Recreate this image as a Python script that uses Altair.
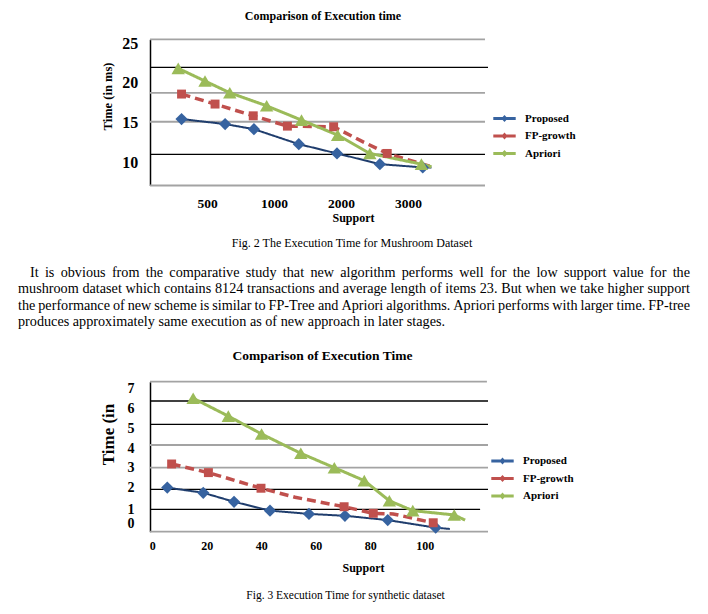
import json
import altair as alt
import pandas as pd

W, H = 692, 594          # drawing area (page minus 8px margin)
FONT = "Liberation Serif"
GREY = "#a3a3a3"
BLACK = "#000000"

# ---------------- common series styling ----------------
series = ["Proposed", "FP-growth", "Apriori"]
marker_colors = ["#3763a0", "#c0504d", "#9bbb59"]
line_colors = ["#1f3d6d", "#c0504d", "#9bbb59"]
line_widths = [2, 3.5, 3]
line_dashes = [[1, 0], [9, 5], [1, 0]]
marker_shapes = ["diamond", "square", "triangle-up"]
marker_sizes = [150, 80, 180]

# ---------------- Fig. 2 (mushroom) ----------------
c1_title = "Comparison of Execution time"
c1_ytitle = "Time (in ms)"
c1_xtitle = "Support"
c1_xticks = [1, 2, 3, 4]
c1_xlabels = ["500", "1000", "2000", "3000"]
c1_yticks = [10, 15, 20, 25]
c1_xdomain = [0.149, 5.194]
c1_ydomain = [7.05, 25.47]

c1_prop_x = [0.62, 1.27, 1.70, 2.37, 2.94, 3.58, 4.22, 4.35]
c1_prop_y = [15.42, 14.79, 14.15, 12.26, 11.09, 9.74, 9.33, 9.33]
c1_prop_m = [1, 1, 1, 1, 1, 1, 1, 0]
c1_fp_x = [0.62, 1.12, 1.69, 2.20, 2.89, 3.33, 3.69, 4.35]
c1_fp_y = [18.57, 17.31, 15.83, 14.53, 14.45, 12.55, 11.09, 9.40]
c1_fp_m = [1, 1, 1, 1, 1, 0, 1, 0]
c1_ap_x = [0.57, 0.97, 1.34, 1.89, 2.41, 2.95, 3.43, 4.20, 4.35]
c1_ap_y = [21.81, 20.21, 18.73, 17.09, 15.29, 13.40, 11.09, 9.74, 9.40]
c1_ap_m = [1, 1, 1, 1, 1, 1, 1, 1, 0]

c1_grid_y = [25.47, 21.94, 18.73, 15.08, 10.96, 7.05]
c1_grid_c = [GREY, BLACK, GREY, GREY, BLACK, GREY]
c1_grid_end = [5.149, 5.194, 5.149, 5.149, 5.149, 5.149]

# ---------------- Fig. 3 (synthetic) ----------------
c2_title = "Comparison of Execution Time"
c2_ytitle = "Time (in"
c2_xtitle = "Support"
c2_xticks = [0, 20, 40, 60, 80, 100]
# where the printed y labels sit on the value axis of this figure
c2_ytick_pos = [7.08, 6.11, 5.14, 4.16, 3.23, 2.26, 1.185, 0.504]
c2_ytick_labels = ["7", "6", "5", "4", "3", "2", "1", "0"]
c2_xdomain = [-0.84, 123.2]
c2_ydomain = [0.105, 7.404]

c2_prop_x = [5.5, 18.7, 30.0, 43.2, 57.5, 70.7, 86.4, 104.0, 109.2]
c2_prop_y = [2.25, 2.00, 1.56, 1.13, 0.97, 0.88, 0.67, 0.30, 0.24]
c2_prop_m = [1, 1, 1, 1, 1, 1, 1, 1, 0]
c2_fp_x = [7.1, 20.6, 39.9, 52.4, 70.4, 81.1, 88.4, 103.1]
c2_fp_y = [3.40, 2.98, 2.22, 1.78, 1.32, 1.00, 0.97, 0.54]
c2_fp_m = [1, 1, 1, 0, 1, 1, 0, 1]
c2_ap_x = [15.0, 27.9, 40.1, 54.5, 66.8, 77.8, 87.0, 95.6, 110.8, 114.8]
c2_ap_y = [6.60, 5.73, 4.86, 3.92, 3.22, 2.59, 1.61, 1.13, 0.92, 0.67]
c2_ap_m = [1, 1, 1, 1, 1, 1, 1, 1, 1, 0]

c2_grid_y = [7.404, 6.465, 5.331, 4.324, 3.219, 2.168, 1.195, 0.105]
c2_grid_c = [GREY, BLACK, BLACK, GREY, GREY, BLACK, BLACK, GREY]
c2_grid_end = [122.8, 123.2, 123.2, 123.2, 123.2, 123.2, 120.3, 123.2]

# ---------------- page text ----------------
caption1 = "Fig. 2 The Execution Time for Mushroom Dataset"
caption2 = "Fig. 3 Execution Time for synthetic dataset"
paragraph = [
    "It is obvious from the comparative study that new algorithm performs well for the low support value for the",
    "mushroom dataset which contains 8124 transactions and average length of items 23.  But when we take higher support",
    "the performance of new scheme is similar to FP-Tree and Apriori algorithms. Apriori performs with larger time. FP-tree",
    "produces approximately same execution as of new approach in later stages.",
]
PARA_SIZE = 14.2

LEG_PATH = ("M-1.4,-0.2L1.4,-0.2L1.4,0.2L-1.4,0.2Z "
            "M0,-0.45L0.4,0L0,0.45L-0.4,0Z")

# Times / Liberation Serif advance widths (per 1000 em) used to justify text
_TNR = {" ": 250, ".": 250, ",": 250, "-": 333, "(": 333, ")": 333}
_TNR.update({c: 500 for c in "0123456789"})
_TNR.update(dict(zip("abcdefghijklmnopqrstuvwxyz",
                     [444, 500, 444, 500, 444, 333, 500, 500, 278, 278, 500, 278, 778,
                      500, 500, 500, 500, 333, 389, 278, 500, 500, 722, 500, 500, 444])))
_TNR.update(dict(zip("ABCDEFGHIJKLMNOPQRSTUVWXYZ",
                     [722, 667, 667, 722, 611, 556, 722, 722, 333, 389, 722, 611, 889,
                      722, 722, 556, 722, 667, 556, 611, 722, 722, 944, 722, 722, 611])))


def text_w(s, size):
    return sum(_TNR.get(ch, 500) for ch in s) * size / 1000.0


def series_frame(xs_list, ys_list, ms_list):
    rows = []
    for name, xs, ys, ms in zip(series, xs_list, ys_list, ms_list):
        for k, (x, y, m) in enumerate(zip(xs, ys, ms)):
            rows.append({"series": name, "x": x, "y": y, "m": m, "k": k})
    return pd.DataFrame(rows)


def grid_frame(ys, cs, ends, start):
    return pd.DataFrame({
        "y": ys, "c": cs, "x1": ends, "x0": [start] * len(ys),
        "w": [1.8 if c == GREY else 1.3 for c in cs],
    })


def panel(df, gdf, sx, sy, ax_x, ax_y, legend):
    layers = [
        alt.Chart(gdf).mark_rule().encode(
            x=alt.X("x0:Q", scale=sx, axis=ax_x),
            x2="x1:Q",
            y=alt.Y("y:Q", scale=sy, axis=ax_y),
            color=alt.Color("c:N", scale=None),
            strokeWidth=alt.StrokeWidth("w:Q", scale=None),
        )
    ]
    for i, name in enumerate(series):
        d = df[df.series == name]
        layers.append(
            alt.Chart(d).mark_line(
                color=line_colors[i], strokeWidth=line_widths[i],
                strokeDash=line_dashes[i],
            ).encode(
                x=alt.X("x:Q", scale=sx, axis=ax_x),
                y=alt.Y("y:Q", scale=sy, axis=ax_y),
                order="k:Q",
            )
        )
    for i, name in enumerate(series):
        d = df[(df.series == name) & (df.m == 1)]
        layers.append(
            alt.Chart(d).mark_point(
                filled=True, opacity=1, shape=marker_shapes[i],
                size=marker_sizes[i], strokeWidth=0,
            ).encode(
                x=alt.X("x:Q", scale=sx, axis=ax_x),
                y=alt.Y("y:Q", scale=sy, axis=ax_y),
                color=alt.Color(
                    "series:N",
                    scale=alt.Scale(domain=series, range=marker_colors),
                    legend=legend,
                ),
            )
        )
    return alt.layer(*layers)


def make_legend(lx, ly):
    return alt.Legend(
        title=None, orient="none", legendX=lx, legendY=ly,
        symbolType=LEG_PATH, symbolSize=256, symbolStrokeWidth=0,
        labelFont=FONT, labelFontSize=11, labelFontWeight="bold",
        labelColor="black", labelOffset=12.5, rowPadding=4.5, padding=0,
    )


def axis_common():
    return dict(
        ticks=False, tickSize=0, grid=False, labelColor="black",
        labelFont=FONT, labelFontWeight="bold", labelFlush=False,
        labelOverlap=False, labelBound=False, titleFont=FONT,
        titleFontWeight="bold", titleColor="black",
        titleBaseline="middle", titleAlign="center",
    )


# ---- panel 1 ----
y1_bot, y1_top = 177.5, 31.3
x_left, x_right = 142, 480
sx1 = alt.Scale(domain=c1_xdomain, range=[x_left, x_right], nice=False, zero=False)
sy1 = alt.Scale(domain=c1_ydomain, range=[y1_bot, y1_top], nice=False, zero=False)
ax1x = alt.Axis(
    orient="bottom", offset=y1_bot - H, values=c1_xticks,
    labelExpr=json.dumps(c1_xlabels) + "[datum.value - 1]",
    labelFontSize=13.5, labelPadding=17.5, labelBaseline="middle",
    domain=False, title=c1_xtitle, titleFontSize=12,
    titleX=345, titleY=32, **axis_common(),
)
ax1y = alt.Axis(
    orient="left", offset=-x_left, values=c1_yticks,
    labelFontSize=16, labelPadding=12.3, domain=True, domainColor="black",
    domainWidth=1.5, title=c1_ytitle, titleFontSize=12.5, titleAngle=270,
    titleX=-43, titleY=88, **axis_common(),
)
df1 = series_frame([c1_prop_x, c1_fp_x, c1_ap_x], [c1_prop_y, c1_fp_y, c1_ap_y],
                   [c1_prop_m, c1_fp_m, c1_ap_m])
g1 = grid_frame(c1_grid_y, c1_grid_c, c1_grid_end, c1_xdomain[0])
p1 = panel(df1, g1, sx1, sy1, ax1x, ax1y, make_legend(488.5, 102.5))

# ---- panel 2 ----
y2_bot, y2_top = 523.7, 373.7
sx2 = alt.Scale(domain=c2_xdomain, range=[x_left, x_right], nice=False, zero=False)
sy2 = alt.Scale(domain=c2_ydomain, range=[y2_bot, y2_top], nice=False, zero=False)
c2_label_map = json.dumps({str(p): l for p, l in zip(c2_ytick_pos, c2_ytick_labels)})
ax2x = alt.Axis(
    orient="bottom", offset=y2_bot - H, values=c2_xticks,
    labelFontSize=12, labelPadding=13.3, labelBaseline="middle",
    domain=False, title=c2_xtitle, titleFontSize=12,
    titleX=355, titleY=36, **axis_common(),
)
ax2y = alt.Axis(
    orient="left", offset=-x_left, values=c2_ytick_pos,
    labelExpr=c2_label_map + "[''+datum.value]",
    labelFontSize=14, labelPadding=16, domain=True, domainColor="black",
    domainWidth=1.5, title=c2_ytitle, titleFontSize=17, titleAngle=270,
    titleX=-42, titleY=426, **axis_common(),
)
df2 = series_frame([c2_prop_x, c2_fp_x, c2_ap_x], [c2_prop_y, c2_fp_y, c2_ap_y],
                   [c2_prop_m, c2_fp_m, c2_ap_m])
g2 = grid_frame(c2_grid_y, c2_grid_c, c2_grid_end, c2_xdomain[0])
p2 = panel(df2, g2, sx2, sy2, ax2x, ax2y, make_legend(486.5, 445))


# ---- page text ----
def text_layer(txt, x, y, size, weight="normal"):
    return alt.Chart(pd.DataFrame({"t": [txt]})).mark_text(
        font=FONT, fontSize=size, fontWeight=weight, align="center",
        baseline="middle", color="black",
    ).encode(x=alt.value(x), y=alt.value(y), text="t:N")


# justified paragraph: one text item per word
PARA_LEFT, PARA_INDENT, PARA_RIGHT, PARA_TOP, PARA_LEAD = 10, 22, 682, 265, 16.3
word_rows = []
for i, line in enumerate(paragraph):
    words = line.split()
    x0 = PARA_INDENT if i == 0 else PARA_LEFT
    widths = [text_w(w, PARA_SIZE) for w in words]
    if i < len(paragraph) - 1 and len(words) > 1:
        gap = (PARA_RIGHT - x0 - sum(widths)) / (len(words) - 1)
    else:
        gap = text_w(" ", PARA_SIZE)
    x = x0
    for w, wd in zip(words, widths):
        word_rows.append({"word": w, "px": x, "py": PARA_TOP + i * PARA_LEAD})
        x += wd + gap
para = alt.Chart(pd.DataFrame(word_rows)).mark_text(
    font=FONT, fontSize=PARA_SIZE, align="left", baseline="middle", color="black"
).encode(
    x=alt.X("px:Q", scale=None, axis=None),
    y=alt.Y("py:Q", scale=None, axis=None),
    text="word:N",
)

chart = alt.layer(
    p1, p2,
    text_layer(c1_title, 315, 8, 12, "bold"),
    text_layer(c2_title, 314.5, 348, 13.5, "bold"),
    text_layer(caption1, 344, 235, 12),
    text_layer(caption2, 337.5, 588, 11.5),
    para,
).resolve_scale(
    x="independent", y="independent", color="independent"
).properties(
    width=W, height=H, padding=0,
    autosize=alt.AutoSizeParams(type="none"),
).configure_view(stroke=None)

chart.save("out.html", embed_options={"renderer": "svg", "actions": False})
